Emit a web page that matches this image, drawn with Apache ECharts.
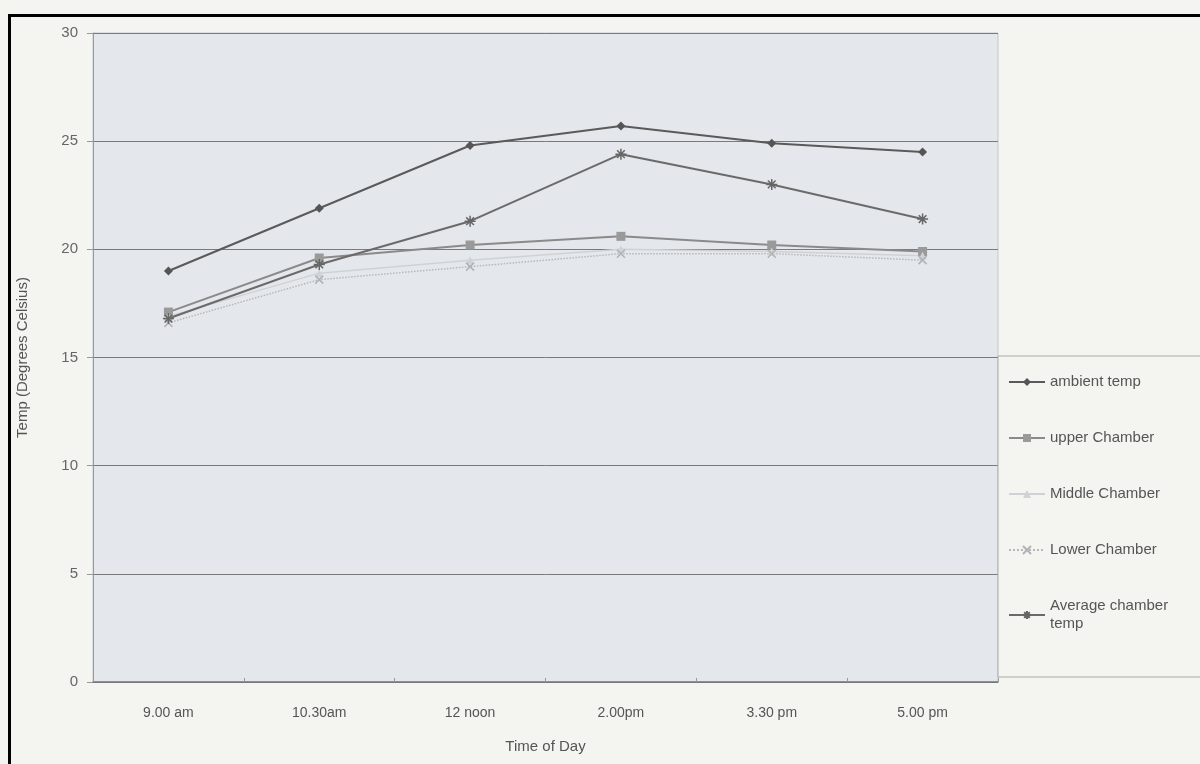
<!DOCTYPE html>
<html>
<head>
<meta charset="utf-8">
<script src="https://cdn.jsdelivr.net/npm/echarts@6/dist/echarts.min.js"></script>
<style>
html,body{margin:0;padding:0;background:#f4f4f1;}
#chart{width:1200px;height:764px;}
</style>
</head>
<body>
<div id="chart"></div>
<script>
var categories = ['9.00 am', '10.30am', '12 noon', '2.00pm', '3.30 pm', '5.00 pm'];
var ambientTemp = [19.0, 21.9, 24.8, 25.7, 24.9, 24.5];
var upperChamber = [17.1, 19.6, 20.2, 20.6, 20.2, 19.9];
var middleChamber = [16.9, 18.9, 19.5, 20.0, 19.9, 19.7];
var lowerChamber = [16.6, 18.6, 19.2, 19.8, 19.8, 19.5];
var averageChamber = [16.8, 19.3, 21.3, 24.4, 23.0, 21.4];
var yTicks = [0, 5, 10, 15, 20, 25, 30];

var xSym = 'path://M0,0L10,10M10,0L0,10';
var starSym = 'path://M5,0L5,10M0,5L10,5M1.5,1.5L8.5,8.5M8.5,1.5L1.5,8.5';

var chart = echarts.init(document.getElementById('chart'));
chart.setOption({
  backgroundColor: '#f4f4f1',
  animation: false,
  textStyle: {fontFamily: 'Liberation Sans, Arial, sans-serif'},
  graphic: [{
    type: 'rect', left: 7, top: 13, shape: {width: 1205, height: 760},
    style: {fill: 'none', stroke: '#000', lineWidth: 3}, silent: true, z: 100
  }],
  grid: {left: 93, right: 202, top: 33, bottom: 82, show: true,
         backgroundColor: '#e4e8ec', borderColor: '#c4c8cc', borderWidth: 1},
  legend: {
    orient: 'vertical', left: 998, top: 356,
    padding: [17, 40, 44, 10], itemGap: 38, itemWidth: 36, itemHeight: 10,
    borderColor: '#aaa', borderWidth: 1, backgroundColor: '#f4f4f1',
    textStyle: {color: '#555', fontSize: 15, lineHeight: 18},
    formatter: function (n) { return n === 'Average chamber temp' ? 'Average chamber\ntemp' : n; }
  },
  xAxis: {
    type: 'category', data: categories, boundaryGap: true,
    axisLine: {lineStyle: {color: '#777', width: 1.5}},
    axisTick: {show: true, inside: true, length: 4, lineStyle: {color: '#999'}},
    axisLabel: {color: '#555', fontSize: 14, margin: 24},
    name: 'Time of Day', nameLocation: 'middle', nameGap: 57,
    nameTextStyle: {color: '#555', fontSize: 15}
  },
  yAxis: {
    type: 'value', min: 0, max: 30, interval: 5,
    axisLine: {show: true, lineStyle: {color: '#999'}},
    axisTick: {show: true, length: 6, lineStyle: {color: '#999'}},
    axisLabel: {color: '#666', fontSize: 15, margin: 15,
      formatter: function (v) { return yTicks.indexOf(v) >= 0 ? String(v) : ''; }},
    splitLine: {lineStyle: {color: '#7a7a7a', width: 1}},
    name: 'Temp (Degrees Celsius)', nameLocation: 'middle', nameGap: 63,
    nameTextStyle: {color: '#555', fontSize: 15}
  },
  series: [
    {name: 'ambient temp', type: 'line', data: ambientTemp, symbol: 'diamond', symbolSize: 9,
     lineStyle: {color: '#5a5a5a', width: 2}, itemStyle: {color: '#555'}},
    {name: 'upper Chamber', type: 'line', data: upperChamber, symbol: 'rect', symbolSize: 9,
     lineStyle: {color: '#8a8a8a', width: 2}, itemStyle: {color: '#9a9a9a'}},
    {name: 'Middle Chamber', type: 'line', data: middleChamber, symbol: 'triangle', symbolSize: 8,
     lineStyle: {color: '#cfd2d5', width: 1.5}, itemStyle: {color: '#d0d3d6'}},
    {name: 'Lower Chamber', type: 'line', data: lowerChamber, symbol: xSym, symbolSize: 8,
     lineStyle: {color: '#b5b8bb', width: 1.5, type: 'dotted'},
     itemStyle: {color: '#b0b3b6', borderColor: '#b0b3b6', borderWidth: 1.5}},
    {name: 'Average chamber temp', type: 'line', data: averageChamber, symbol: starSym, symbolSize: 11,
     lineStyle: {color: '#6a6a6a', width: 2},
     itemStyle: {color: '#666', borderColor: '#666', borderWidth: 1.5}}
  ]
});
</script>
</body>
</html>
